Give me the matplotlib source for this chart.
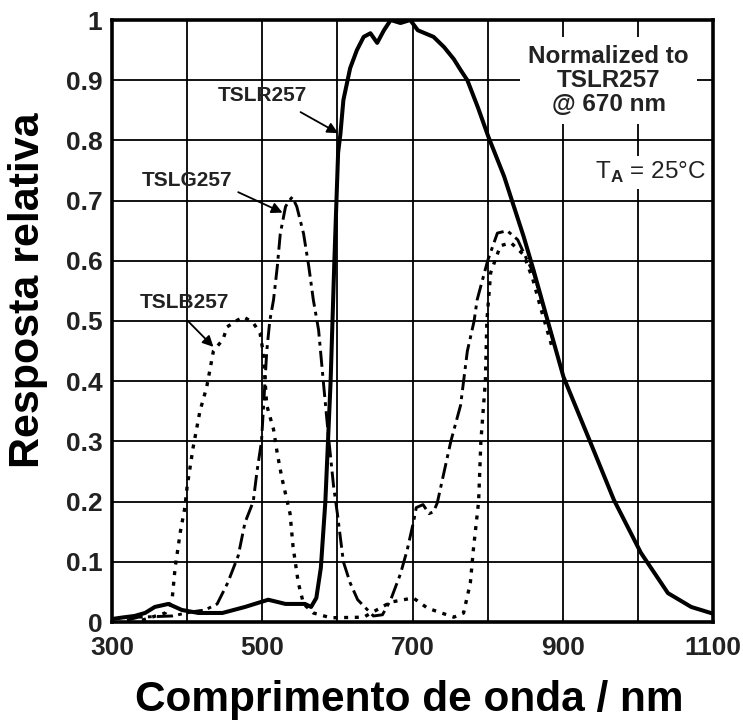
import matplotlib
matplotlib.use("Agg")
import matplotlib.pyplot as plt
from matplotlib.ticker import MultipleLocator

plt.rcParams['font.family'] = ['Liberation Sans', 'DejaVu Sans']
plt.rcParams['mathtext.fontset'] = 'custom'
plt.rcParams['mathtext.rm'] = 'Liberation Sans'
plt.rcParams['mathtext.bf'] = 'Liberation Sans:bold'

# ---- data ----
wl_r = [300, 317, 330, 344, 357, 375, 393, 415, 447, 477, 508, 531, 557, 565, 572, 578,
        584, 591, 596, 601, 604, 608, 617, 626, 635, 644, 653, 662, 671, 684, 697, 707,
        728, 742, 755, 764, 773, 787, 801, 822, 835, 848, 861, 880, 901, 933, 968, 1004,
        1040, 1071, 1097, 1100]
resp_r = [0.005, 0.008, 0.010, 0.015, 0.025, 0.030, 0.020, 0.015, 0.015, 0.025, 0.037,
          0.030, 0.030, 0.025, 0.040, 0.090, 0.200, 0.400, 0.600, 0.780, 0.810, 0.867,
          0.920, 0.950, 0.972, 0.978, 0.962, 0.983, 1.000, 0.995, 1.000, 0.983, 0.972,
          0.955, 0.935, 0.917, 0.900, 0.855, 0.806, 0.740, 0.690, 0.640, 0.585, 0.500,
          0.407, 0.310, 0.203, 0.115, 0.048, 0.025, 0.015, 0.014]

wl_g = [320, 335, 380, 407, 424, 440, 454, 468, 477, 488, 493, 499, 506, 510, 515, 520,
        524, 531, 536, 540, 546, 555, 562, 568, 575, 582, 588, 595, 600, 608, 617, 627,
        648, 660, 671, 684, 693, 702, 705, 714, 722, 728, 733, 751, 764, 773, 782, 786,
        800, 813, 826, 840, 853, 861, 880, 890]
resp_g = [0.003, 0.008, 0.010, 0.017, 0.020, 0.030, 0.065, 0.110, 0.165, 0.200, 0.250,
          0.300, 0.450, 0.500, 0.535, 0.590, 0.645, 0.690, 0.700, 0.706, 0.690, 0.645,
          0.590, 0.535, 0.485, 0.390, 0.310, 0.225, 0.180, 0.100, 0.065, 0.037, 0.010,
          0.012, 0.037, 0.080, 0.120, 0.170, 0.190, 0.195, 0.180, 0.183, 0.198, 0.300,
          0.360, 0.450, 0.500, 0.535, 0.600, 0.646, 0.650, 0.635, 0.600, 0.580, 0.500,
          0.455]

wl_b = [340, 371, 380, 384, 391, 397, 400, 408, 417, 426, 435, 448, 453, 465, 475, 488,
        497, 501, 506, 515, 520, 526, 537, 541, 548, 555, 568, 591, 635, 671, 701, 720,
        755, 768, 777, 781, 788, 791, 797, 799, 804, 817, 831, 848, 860, 871, 885, 890]
resp_b = [0.003, 0.015, 0.037, 0.090, 0.150, 0.190, 0.225, 0.290, 0.350, 0.390, 0.450,
          0.470, 0.490, 0.500, 0.507, 0.497, 0.480, 0.450, 0.360, 0.320, 0.280, 0.240,
          0.180, 0.125, 0.065, 0.030, 0.015, 0.007, 0.008, 0.033, 0.040, 0.023, 0.008,
          0.015, 0.065, 0.120, 0.200, 0.300, 0.400, 0.500, 0.580, 0.625, 0.630, 0.610,
          0.570, 0.520, 0.460, 0.455]

x_ticks = [300, 500, 700, 900, 1100]
x_ticklabels = ['300', '500', '700', '900', '1100']
y_ticks = [0, 0.1, 0.2, 0.3, 0.4, 0.5, 0.6, 0.7, 0.8, 0.9, 1.0]
y_ticklabels = ['0', '0.1', '0.2', '0.3', '0.4', '0.5', '0.6', '0.7', '0.8', '0.9', '1']

# ---- figure ----
fig = plt.figure(figsize=(7.43, 7.22), dpi=100)
ax = fig.add_axes([112 / 743, 1 - 622 / 722, 601 / 743, 602 / 722])

ax.plot(wl_b, resp_b, color='black', lw=2.4, linestyle=(0, (1.2, 2.0)), zorder=3)
ax.plot(wl_g, resp_g, color='black', lw=2.1, linestyle=(0, (5.5, 1.8, 1.3, 1.8)), zorder=3)
ax.plot(wl_r, resp_r, color='black', lw=2.9, solid_joinstyle='round', zorder=4)

ax.set_xlim(300, 1100)
ax.set_ylim(0, 1)
ax.set_xticks(x_ticks)
ax.set_xticklabels(x_ticklabels)
ax.xaxis.set_minor_locator(MultipleLocator(100))
ax.set_yticks(y_ticks)
ax.set_yticklabels(y_ticklabels)
ax.grid(True, which='both', color='black', lw=1.3, zorder=1)
ax.set_axisbelow(True)
ax.tick_params(which='both', length=0)
ax.tick_params(axis='x', pad=10)
ax.tick_params(axis='y', pad=7)
for lab in ax.get_xticklabels() + ax.get_yticklabels():
    lab.set_fontfamily(['Liberation Sans Narrow', 'Liberation Sans'])
    lab.set_fontweight('bold')
    lab.set_fontsize(19)
    lab.set_color('#222222')
for sp in ax.spines.values():
    sp.set_linewidth(2.6)

fig.text(409 / 743, 1 - 700 / 722, 'Comprimento de onda / nm', ha='center', va='center',
         fontsize=30.5, fontweight='bold')
fig.text(28 / 743, 1 - 290 / 722, 'Resposta relativa', ha='center', va='center',
         rotation=90, fontsize=31, fontweight='bold')

# annotations
lab_kw = dict(fontsize=15, fontweight='bold', ha='center', va='center', color='#222222', zorder=6)
arr = dict(arrowstyle='-|>', color='black', lw=1.3, mutation_scale=16, shrinkA=0, shrinkB=0)
ax.text(500, 0.875, 'TSLR257', **lab_kw)
ax.annotate('', xy=(601, 0.812), xytext=(551, 0.847), arrowprops=arr, zorder=6)
ax.text(400, 0.734, 'TSLG257', **lab_kw)
ax.annotate('', xy=(527, 0.68), xytext=(468, 0.714), arrowprops=arr, zorder=6)
ax.text(397, 0.53, 'TSLB257', **lab_kw)
ax.annotate('', xy=(435, 0.457), xytext=(401, 0.50), arrowprops=arr, zorder=6)

ax.text(961, 0.90, 'Normalized to\nTSLR257\n@ 670 nm', fontsize=17.5, fontweight='bold',
        ha='center', va='center', linespacing=1.05, color='#222222', zorder=5,
        bbox=dict(facecolor='white', edgecolor='none', pad=6))
ax.text(1017, 0.747, r'T$_{\mathbf{A}}$ = 25°C', fontsize=17.5, ha='center', va='center',
        color='#222222', zorder=5, bbox=dict(facecolor='white', edgecolor='none', pad=3))

fig.savefig('out.png', dpi=100)
